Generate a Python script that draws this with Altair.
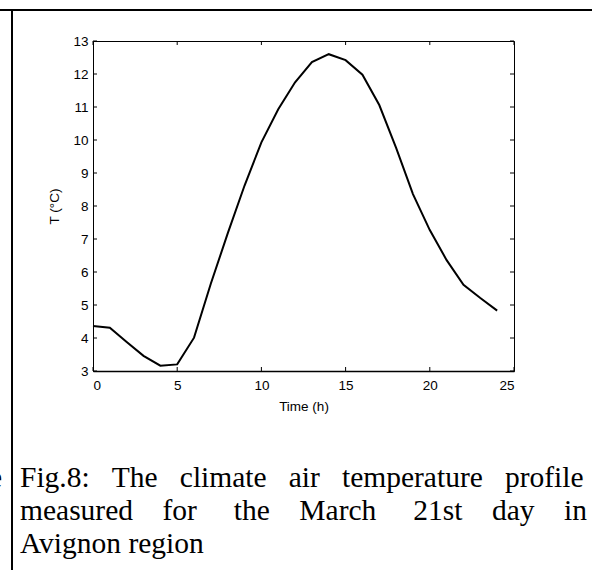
import altair as alt
import pandas as pd

# ---- data ----
hours = list(range(25))
temps = [4.36, 4.31, 3.88, 3.46, 3.16, 3.20, 4.01, 5.65, 7.17, 8.62,
         9.93, 10.93, 11.75, 12.36, 12.60, 12.42, 11.98, 11.06, 9.76,
         8.36, 7.27, 6.36, 5.61, 5.21, 4.83]
x_ticks = [0, 5, 10, 15, 20, 25]
y_ticks = list(range(3, 14))

x_title = "Time (h)"
y_title = "T (°C)"
NB = "\u00a0"
caption_lines = [
    "Fig.8:" + NB * 3 + "The" + NB * 3 + "climate" + NB * 3 + "air" + NB * 3 + "temperature" + NB * 3 + "profile",
    "measured" + NB * 4 + "for" + NB * 5 + "the" + NB * 4 + "March" + NB * 5 + "21st" + NB * 4 + "day" + NB * 4 + "in",
    "Avignon region",
]

W, H = 421, 330
PL, PT = 93, 41

df = pd.DataFrame({"hour": hours, "temp": temps})
xt = pd.DataFrame({"t": x_ticks})
yt = pd.DataFrame({"t": y_ticks})

xscale = alt.Scale(domain=[0, 25], nice=False)
yscale = alt.Scale(domain=[3, 13], nice=False)
FONT = "Liberation Sans"
LS = 13.5

xaxis = alt.Axis(values=x_ticks, title=x_title, labelPadding=7, titlePadding=8,
                 domainWidth=1.5, ticks=False, grid=False, domainColor="black",
                 labelFont=FONT, labelFontSize=LS, labelOverlap=False, labelColor="black",
                 titleFont=FONT, titleFontSize=LS, titleFontWeight="normal", titleColor="black")
yaxis = alt.Axis(values=y_ticks, title=y_title, labelPadding=5, titlePadding=11,
                 domainWidth=1, ticks=False, grid=False, domainColor="black",
                 labelFont=FONT, labelFontSize=LS, labelOverlap=False, labelColor="black",
                 titleFont=FONT, titleFontSize=LS, titleFontWeight="normal", titleColor="black")

line = alt.Chart(df).mark_line(color="black", strokeWidth=2).encode(
    x=alt.X("hour:Q", scale=xscale, axis=xaxis, title=x_title),
    y=alt.Y("temp:Q", scale=yscale, axis=yaxis, title=y_title),
)

TL = 4
xt_bot = alt.Chart(xt).mark_rule(color="black", strokeWidth=1).encode(
    x=alt.X("t:Q", scale=xscale, axis=xaxis, title=x_title), y=alt.value(H), y2=alt.value(H - TL))
xt_top = alt.Chart(xt).mark_rule(color="black", strokeWidth=1).encode(
    x=alt.X("t:Q", scale=xscale, axis=xaxis, title=x_title), y=alt.value(0), y2=alt.value(TL))
yt_left = alt.Chart(yt).mark_rule(color="black", strokeWidth=1).encode(
    y=alt.Y("t:Q", scale=yscale, axis=yaxis, title=y_title), x=alt.value(0), x2=alt.value(TL))
yt_right = alt.Chart(yt).mark_rule(color="black", strokeWidth=1).encode(
    y=alt.Y("t:Q", scale=yscale, axis=yaxis, title=y_title), x=alt.value(W), x2=alt.value(W - TL))

# table-cell borders around the figure
border_top = alt.Chart(pd.DataFrame({"k": [0]})).mark_rule(color="black", strokeWidth=2).encode(
    x=alt.value(-PL), x2=alt.value(592 - PL), y=alt.value(10 - PT))
border_left = alt.Chart(pd.DataFrame({"k": [0]})).mark_rule(color="black", strokeWidth=2).encode(
    x=alt.value(12 - PL), y=alt.value(10 - PT), y2=alt.value(570 - PT))

CAP_FONT = "Liberation Serif"
CAP_SIZE = 29.5
cap_layers = []
for i, txt in enumerate(caption_lines):
    cap_layers.append(
        alt.Chart(pd.DataFrame({"k": [0]})).mark_text(
            text=txt, font=CAP_FONT, fontSize=CAP_SIZE, align="left",
            baseline="alphabetic", color="black").encode(
            x=alt.value(20 - PL), y=alt.value(487 - PT + 33 * i))
    )
stray = alt.Chart(pd.DataFrame({"k": [0]})).mark_text(
    text="e", font=CAP_FONT, fontSize=CAP_SIZE, align="right",
    baseline="alphabetic", color="black").encode(
    x=alt.value(2 - PL), y=alt.value(487 - PT))

chart = alt.layer(line, xt_bot, xt_top, yt_left, yt_right, border_top, border_left,
                  stray, *cap_layers).properties(
    width=W, height=H,
    autosize=alt.AutoSizeParams(type="none"),
    padding={"left": PL, "top": PT, "right": 592 - PL - W, "bottom": 570 - PT - H},
    background="white",
).configure_view(stroke="black", strokeWidth=1)

chart.save("out.html", embed_options={"renderer": "svg", "actions": False})
